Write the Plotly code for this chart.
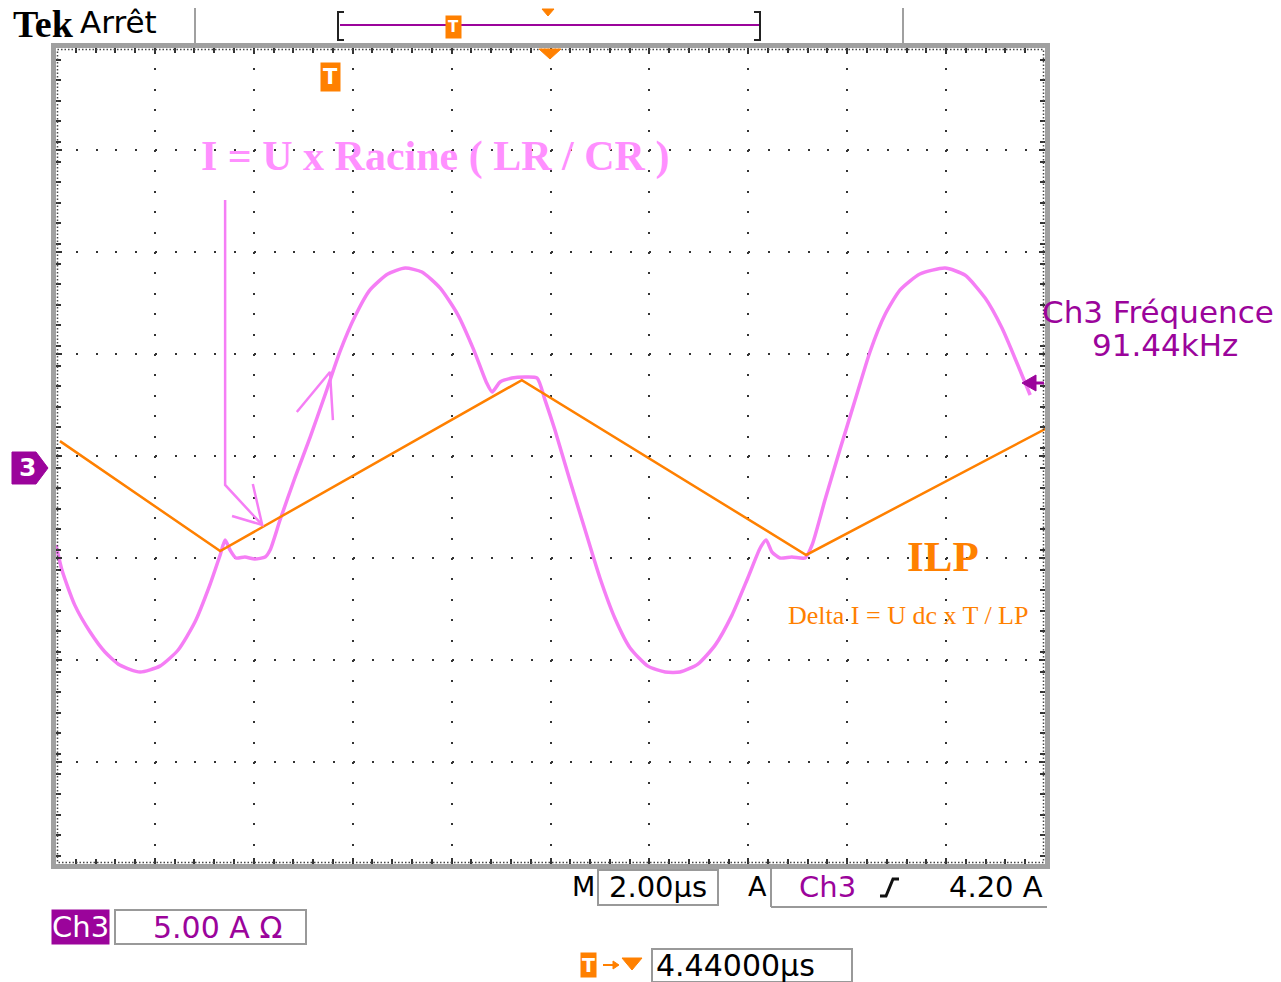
import plotly.graph_objects as go

# ---------------- data (time in µs, current in A) ----------------
TIME_PER_DIV = 2.0      # M 2.00 µs
AMP_PER_DIV = 5.0       # Ch3 5.00 A
CENTER_LEVEL = 0.59     # current value at the screen centre (ground marker slightly below)

# ILP : triangular inductor current (orange)
t_ilp = [0.08, 3.32, 9.42, 15.17, 20.16]
i_ilp = [1.32, -4.07, 4.31, -4.26, 2.11]

# ILR : resonant current (pink)
t_ilr = [0.00, 0.12, 0.38, 0.69, 0.99, 1.29, 1.70, 2.10, 2.47, 2.81, 3.11, 3.32, 3.42,
         3.52, 3.64, 3.82, 4.02, 4.23, 4.33, 4.53, 4.83, 5.14, 5.44, 5.74, 6.05, 6.35,
         6.71, 7.06, 7.40, 7.77, 8.13, 8.45, 8.70, 8.82, 8.98, 9.22, 9.48, 9.73, 9.89,
         10.09, 10.39, 10.70, 11.00, 11.30, 11.61, 11.97, 12.32, 12.62, 12.98, 13.33,
         13.67, 13.99, 14.24, 14.36, 14.48, 14.64, 14.88, 15.15, 15.29, 15.55, 15.85,
         16.16, 16.46, 16.76, 17.07, 17.47, 17.98, 18.38, 18.79, 19.13, 19.45, 19.70]
i_ilr = [-3.77, -5.00, -6.72, -8.04, -9.02, -9.66, -10.00, -9.71, -8.92, -7.55, -5.74,
         -4.26, -3.53, -4.02, -4.41, -4.36, -4.46, -4.36, -4.02, -2.55, -0.49, 1.52,
         3.58, 5.69, 7.45, 8.73, 9.51, 9.80, 9.61, 8.82, 7.50, 5.78, 4.22, 3.73, 4.22,
         4.41, 4.46, 4.41, 3.33, 1.86, -0.59, -3.04, -5.39, -7.35, -8.82, -9.71, -10.00,
         -10.00, -9.61, -8.68, -7.21, -5.39, -3.92, -3.53, -4.12, -4.41, -4.36, -4.41,
         -3.77, -1.57, 0.88, 3.33, 5.69, 7.50, 8.73, 9.51, 9.80, 9.46, 8.33, 6.86,
         5.05, 3.58]

# hand-drawn annotation arrows (data coordinates)
arrow1_t = [3.42, 3.42, 4.17]
arrow1_i = [13.14, -0.83, -2.79]
arrow1_head_t = [3.56, 4.17, 3.98]
arrow1_head_i = [-2.35, -2.79, -0.78]
arrow2_t = [4.87, 5.54, 5.60]
arrow2_i = [2.75, 4.71, 2.35]

# ---------------- layout constants ----------------
W, H = 1281, 982
PL, PR, PT, PB = 56, 1045, 48, 864   # plot area in pixels
PW, PH = PR - PL, PB - PT

ORANGE = "#ff8000"
PINK = "#f57ef5"
PINK_TXT = "#ff90ff"
PURPLE = "#9b049b"
GRAY = "#a0a0a0"


def px(x):
    return (x - PL) / PW


def py(y):
    return (PB - y) / PH


fig = go.Figure()

fig.add_trace(go.Scatter(x=t_ilr, y=i_ilr, mode="lines",
                         line=dict(color=PINK, width=3.5, shape="spline", smoothing=0.6),
                         hoverinfo="skip", showlegend=False))
fig.add_trace(go.Scatter(x=t_ilp, y=i_ilp, mode="lines",
                         line=dict(color=ORANGE, width=2.5),
                         hoverinfo="skip", showlegend=False, cliponaxis=False))
for xs, ys in [(arrow1_t, arrow1_i), (arrow1_head_t, arrow1_head_i), (arrow2_t, arrow2_i)]:
    fig.add_trace(go.Scatter(x=xs, y=ys, mode="lines",
                             line=dict(color=PINK, width=2.5),
                             hoverinfo="skip", showlegend=False))

n_xdiv, n_ydiv = 10, 8
xr = [0, n_xdiv * TIME_PER_DIV]
yr = [CENTER_LEVEL - n_ydiv / 2 * AMP_PER_DIV, CENTER_LEVEL + n_ydiv / 2 * AMP_PER_DIV]

xgrid_dash = "2px,%.2fpx" % (PH / 40 - 2)
ygrid_dash = "2px,%.2fpx" % (PW / 50 - 2)

fig.update_xaxes(range=xr, tick0=0, dtick=TIME_PER_DIV, showticklabels=False,
                 showgrid=True, gridcolor="#333333", gridwidth=2, griddash=xgrid_dash,
                 zeroline=False, showline=True, linewidth=5, linecolor=GRAY, mirror="allticks",
                 ticks="inside", ticklen=6, tickwidth=1.5, tickcolor="#333333",
                 minor=dict(dtick=TIME_PER_DIV / 5, ticks="inside", ticklen=5,
                            tickwidth=1.5, tickcolor="#333333", showgrid=False),
                 fixedrange=True)
fig.update_yaxes(range=yr, tick0=CENTER_LEVEL, dtick=AMP_PER_DIV, showticklabels=False,
                 showgrid=True, gridcolor="#333333", gridwidth=2, griddash=ygrid_dash,
                 zeroline=False, showline=True, linewidth=5, linecolor=GRAY, mirror="allticks",
                 ticks="inside", ticklen=6, tickwidth=1.5, tickcolor="#333333",
                 minor=dict(dtick=AMP_PER_DIV / 5, ticks="inside", ticklen=5,
                            tickwidth=1.5, tickcolor="#333333", showgrid=False),
                 fixedrange=True)

shapes = []


def line(x0, y0, x1, y1, color="#999999", width=2):
    shapes.append(dict(type="line", xref="paper", yref="paper",
                       x0=px(x0), y0=py(y0), x1=px(x1), y1=py(y1),
                       line=dict(color=color, width=width)))


def rect(x0, y0, x1, y1, color="#999999", width=2, fill="rgba(0,0,0,0)", dash="solid"):
    shapes.append(dict(type="rect", xref="paper", yref="paper",
                       x0=px(x0), y0=py(y0), x1=px(x1), y1=py(y1),
                       line=dict(color=color, width=width, dash=dash), fillcolor=fill))


def path(pts, color, fill=None, width=2, close=True):
    d = "M " + " L ".join("%.5f,%.5f" % (px(a), py(b)) for a, b in pts)
    if close:
        d += " Z"
    shapes.append(dict(type="path", xref="paper", yref="paper", path=d,
                       line=dict(color=color, width=width),
                       fillcolor=fill if fill else "rgba(0,0,0,0)"))


# dense dotted inner border
rect(PL + 1.5, PT + 1.5, PR - 1.5, PB - 1.5, color="#444444", width=1.5, dash="1.5px,2px")

# header separators and record bar
line(195, 8, 195, 45, color=GRAY, width=2)
line(903, 8, 903, 45, color=GRAY, width=2)
line(340, 25, 760, 25, color=PURPLE, width=2)
path([(344, 12), (338, 12), (338, 40), (344, 40)], "#222222", width=2, close=False)
path([(754, 12), (760, 12), (760, 40), (754, 40)], "#222222", width=2, close=False)
path([(542, 9), (554, 9), (548, 16)], ORANGE, fill=ORANGE, width=1)
path([(539, 49), (561, 49), (550, 59)], ORANGE, fill=ORANGE, width=1)

# bottom boxes
rect(598, 870, 718, 905)
line(771, 868, 771, 907)
line(771, 907, 1047, 907)
rect(115, 910, 306, 944)
rect(652, 949, 852, 982)
path([(880, 896), (886, 896), (893, 879), (899, 879)], "#111111", width=3, close=False)
path([(622, 958), (642, 958), (632, 970)], ORANGE, fill=ORANGE, width=1)
line(603, 965, 618, 965, color=ORANGE, width=2)
path([(613, 961), (619, 965), (613, 969)], ORANGE, fill=ORANGE, width=1)

# channel 3 ground marker (left) and right edge marker
path([(12, 452), (36, 452), (48, 468), (36, 484), (12, 484)], PURPLE, fill=PURPLE, width=1)
path([(1022, 383), (1036, 375), (1036, 391)], PURPLE, fill=PURPLE, width=1)
line(1036, 383, 1044, 383, color=PURPLE, width=3)

annotations = []


def ann(text, x, y, size, color="#000000", family="DejaVu Sans", xanchor="center",
        weight="normal", bg=None, pad=0):
    a = dict(text=text, xref="paper", yref="paper", x=px(x), y=py(y), showarrow=False,
             xanchor=xanchor, yanchor="middle",
             font=dict(size=size, color=color, family=family, weight=weight),
             borderpad=pad)
    if bg:
        a["bgcolor"] = bg
    annotations.append(a)


ann("Tek", 12, 24, 38, family="Liberation Serif", xanchor="left", weight="bold")
ann("Arrêt", 79, 22, 31, xanchor="left")
ann("T", 453, 27, 15, color="white", weight="bold", bg=ORANGE, pad=2)
ann("T", 330, 77, 21, color="white", weight="bold", bg=ORANGE, pad=2)

ann("I = U x Racine ( LR / CR )", 200, 157, 42, color=PINK_TXT, family="Liberation Serif",
    xanchor="left", weight="bold")
ann("ILP", 943, 556, 43, color=ORANGE, family="Liberation Serif", weight="bold")
ann("Delta I = U dc x T / LP", 787, 615, 26, color=ORANGE, family="Liberation Serif",
    xanchor="left")

ann("Ch3 Fréquence", 1158, 312, 31, color=PURPLE)
ann("91.44kHz", 1165, 345, 31, color=PURPLE)

ann("3", 27, 468, 25, color="white", weight="bold")

ann("M", 583, 887, 27)
ann("2.00µs", 658, 887, 29)
ann("A", 757, 887, 27)
ann("Ch3", 827, 887, 29, color=PURPLE)
ann("4.20 A", 1044, 887, 29, xanchor="right")

ann("Ch3", 80, 927, 29, color="white", bg=PURPLE, pad=0)
ann("5.00 A Ω", 217, 927, 30, color=PURPLE)

ann("T", 588, 965, 19, color="white", weight="bold", bg=ORANGE, pad=1)
ann("4.44000µs", 655, 965, 30, xanchor="left")

fig.update_layout(width=W, height=H, margin=dict(l=PL, r=W - PR, t=PT, b=H - PB),
                  paper_bgcolor="white", plot_bgcolor="white",
                  shapes=shapes, annotations=annotations, showlegend=False)

fig.write_html("out.html", config={"displayModeBar": False})
